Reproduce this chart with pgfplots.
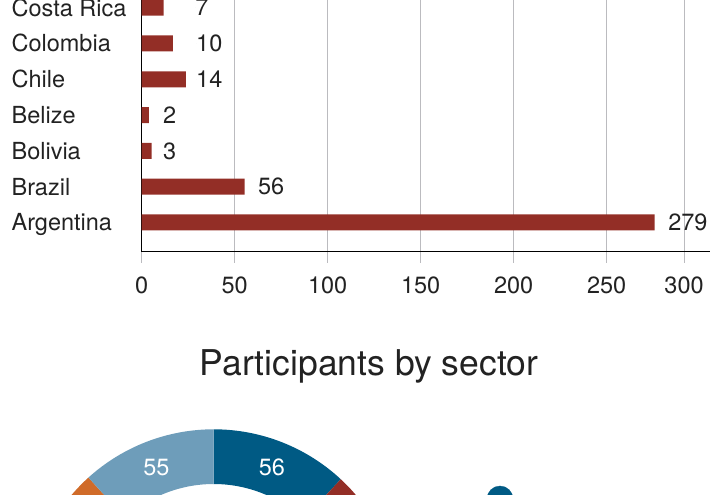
\documentclass[border=0pt]{standalone}
\usepackage{fontspec}
\setmainfont{TeX Gyre Heros}
\usepackage{pgfplots}
\pgfplotsset{compat=1.18}
\usepackage{pgfplotstable}
\definecolor{barred}{HTML}{932E26}
\definecolor{gridgray}{HTML}{BBBBBF}
\definecolor{dblue}{HTML}{005A84}
\definecolor{lblue}{HTML}{6E9DBA}
\definecolor{dred}{HTML}{932E26}
\definecolor{orng}{HTML}{D06B29}
\definecolor{txt}{HTML}{222222}
\newcommand{\lab}{\fontsize{23.5bp}{27bp}\selectfont}

% participants by country: bar length, label x, printed value
\pgfplotstableread{
pos len lx lab
0 275.8 283.0 279
1 55.4 62.5 56
2 5.4 11.4 3
3 3.8 11.4 2
4 23.7 29.2 14
5 16.7 29.2 10
6 11.8 28.7 7
}\countries

% participants by sector (clockwise from the top)
\def\Tot{470}
\def\vA{56}
\def\vB{180}
\def\vC{179}
\def\vD{55}
\pgfmathsetmacro\deg{360/\Tot}
\pgfmathsetmacro\aA{90}
\pgfmathsetmacro\aB{90-\deg*\vA}
\pgfmathsetmacro\aC{\aB-\deg*\vB}
\pgfmathsetmacro\aD{\aC-\deg*\vC}
\pgfmathsetmacro\aE{\aD-\deg*\vD}
\pgfmathsetmacro\mA{(\aA+\aB)/2}
\pgfmathsetmacro\mD{(\aD+\aE)/2}
\newcommand\ringseg[3]{\fill[#1, shift={(axis cs:0,0)}] (#2:186.7bp) arc[start angle=#2, end angle=#3, radius=186.7bp] -- (#3:132bp) arc[start angle=#3, end angle=#2, radius=132bp] -- cycle;}

\begin{document}
\begin{tikzpicture}[x=1bp,y=1bp]
\useasboundingbox (0bp,0bp) rectangle (710bp,495bp);
\clip (0bp,0bp) rectangle (710bp,495bp);
\begin{axis}[
  at={(141.7bp,243.3bp)}, anchor=south west,
  x=1.86bp, y=35.8bp,
  xmin=0, xmax=312, ymin=-0.816, ymax=7.5,
  axis x line*=bottom, axis y line*=left,
  axis line style={black, line width=1.2bp},
  xtick={0,50,100,150,200,250,291.6},
  xticklabels={0,50,100,150,200,250,300},
  ytick={0,1,2,3,4,5,6},
  yticklabels={Argentina,Brazil,Bolivia,Belize,Chile,Colombia,Costa Rica},
  xmajorgrids=true,
  major grid style={gridgray, line width=1bp},
  tick align=outside, major tick length=11bp,
  xtick style={gridgray, line width=1bp},
  ytick style={draw=none},
  tick label style={font=\lab, text=txt, inner sep=0pt},
  xticklabel style={anchor=north, text height=16.5bp, text depth=0pt, yshift=-14bp},
  yticklabel style={anchor=west, text height=16.7bp, text depth=0pt, xshift=-119.3bp},
]
\addplot[xbar, fill=barred, draw=none, bar width=16bp] table[x=len,y=pos]{\countries};
\addplot[only marks, mark=*, mark size=0pt, mark options={draw=none,fill=none},
  nodes near coords, point meta=explicit symbolic, nodes near coords align=horizontal,
  every node near coord/.append style={anchor=west, inner sep=0pt, font=\lab, text=txt}]
  table[x=lx,y=pos,meta=lab]{\countries};
\end{axis}
\begin{axis}[
  at={(0bp,-321bp)}, anchor=south west,
  x=1bp, y=1bp,
  xmin=-213.7, xmax=496.3, ymin=-200, ymax=616,
  axis lines=none, ticks=none, clip=false,
  title={Participants by sector},
  title style={font=\fontsize{35.5bp}{40bp}\selectfont, text=txt, anchor=base, inner sep=0pt,
    at={(axis description cs:0.5197,0.5330)}},
]
\ringseg{dblue}{\aA}{\aB}
\ringseg{dred}{\aB}{\aC}
\ringseg{orng}{\aC}{\aD}
\ringseg{lblue}{\aD}{\aE}
\node[text=white, font=\lab] at ([shift={(axis cs:0,0)}]\mA:159.35bp) {\vA};
\node[text=white, font=\lab] at ([shift={(axis cs:0,0)}]\mD:159.35bp) {\vD};
\addplot[only marks, mark=*, mark size=13bp, color=dblue] coordinates {(286.3,117)};
\end{axis}
\end{tikzpicture}
\end{document}
